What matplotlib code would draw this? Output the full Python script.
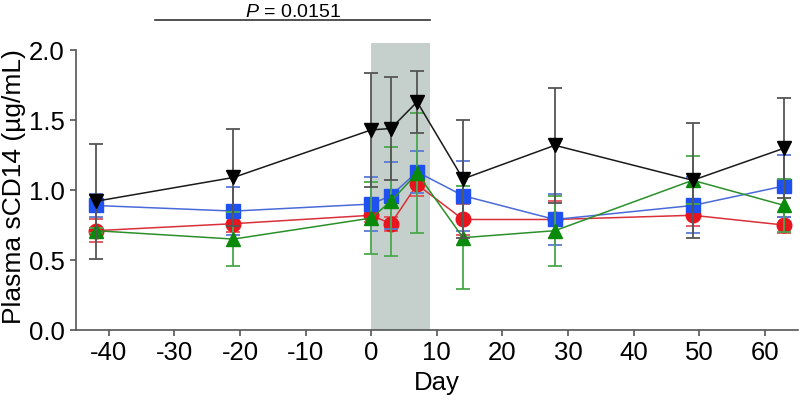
import matplotlib
matplotlib.use("Agg")
import matplotlib.pyplot as plt

plt.rcParams['font.family'] = ['Liberation Sans', 'DejaVu Sans']
plt.rcParams['mathtext.fontset'] = 'custom'
plt.rcParams['mathtext.it'] = 'Liberation Sans:italic'
plt.rcParams['mathtext.rm'] = 'Liberation Sans'
plt.rcParams['axes.unicode_minus'] = False

# sampling days
days = [-42, -21, 0, 3, 7, 14, 28, 49, 63]

# group means and SD (ug/mL)
black_mean = [0.92, 1.09, 1.43, 1.44, 1.63, 1.08, 1.32, 1.07, 1.30]
black_err = [0.41, 0.35, 0.41, 0.37, 0.22, 0.42, 0.41, 0.41, 0.36]
blue_mean = [0.89, 0.85, 0.90, 0.96, 1.13, 0.96, 0.79, 0.89, 1.03]
blue_err = [0.08, 0.17, 0.19, 0.24, 0.15, 0.25, 0.18, 0.20, 0.22]
red_mean = [0.71, 0.76, 0.82, 0.76, 1.04, 0.79, 0.79, 0.82, 0.75]
red_err = [0.08, 0.06, 0.05, 0.05, 0.08, 0.11, 0.13, 0.08, 0.06]
green_mean = [0.71, 0.65, 0.80, 0.92, 1.12, 0.66, 0.71, 1.07, 0.89]
green_err = [0.02, 0.19, 0.26, 0.39, 0.43, 0.37, 0.25, 0.17, 0.19]

shade_start, shade_end = 0, 9
sig_start, sig_end = -33, 9
p_label = r'$\it{P}$ = 0.0151'

fig = plt.figure(figsize=(8, 4.03), dpi=100)
ax = fig.add_axes([0.095, 0.181, 0.902, 0.712])

ax.axvspan(shade_start, shade_end, ymin=0, ymax=1, color='#c5cfcc', lw=0, zorder=0)

series = [
    (red_mean, red_err, 'o', '#e8141e', '#e0505a', '#d9303a', 3),
    (blue_mean, blue_err, 's', '#1f50f0', '#5a7ad8', '#4a6ad8', 4),
    (green_mean, green_err, '^', '#0a8a0a', '#4aa84a', '#2a902a', 5),
    (black_mean, black_err, 'v', '#000000', '#555555', '#1a1a1a', 6),
]
for mean, err, mk, mcol, ecol, lcol, z in series:
    ax.errorbar(days, mean, yerr=err, fmt='none', ecolor=ecol, elinewidth=1.3,
                capsize=5, capthick=1.3, zorder=z)
    ax.plot(days, mean, color=lcol, lw=1.1, marker=mk, markersize=10.5,
            markerfacecolor=mcol, markeredgecolor=mcol, zorder=z + 0.5)

ax.set_xlim(-45, 65)
ax.set_ylim(0, 2.05)
ax.set_xticks(range(-40, 61, 10))
ax.set_yticks([0, 0.5, 1.0, 1.5, 2.0])
ax.set_yticklabels(['0.0', '0.5', '1.0', '1.5', '2.0'])
ax.spines['top'].set_visible(False)
ax.spines['right'].set_visible(False)
ax.spines['left'].set_bounds(0, 2.0)
for s in ['left', 'bottom']:
    ax.spines[s].set_color('#555555')
    ax.spines[s].set_linewidth(1.2)
ax.tick_params(axis='both', labelsize=18.5, length=4, width=1.2, color='#555555', pad=4)
ax.set_xlabel('Day', fontsize=18.5, labelpad=4)
ax.set_ylabel('Plasma sCD14 (µg/mL)', fontsize=19, labelpad=2)

ax.plot([sig_start, sig_end], [2.215, 2.215], color='#333333', lw=1.2, clip_on=False)
ax.text((sig_start + sig_end) / 2, 2.235, p_label, ha='center', va='baseline',
        fontsize=14, clip_on=False)

fig.savefig('out.png', dpi=100)
